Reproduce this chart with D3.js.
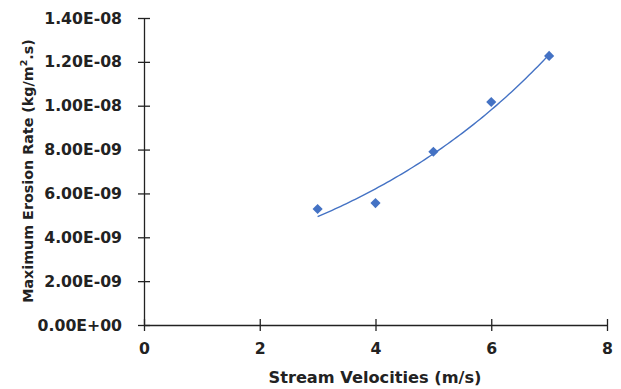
<!DOCTYPE html>
<meta charset="utf-8">
<style>
body { margin: 0; background: #fff; }
.tick text { font: bold 15.7px "DejaVu Sans", sans-serif; fill: #222; }
.axis path, .axis line { stroke: #222; stroke-width: 1.3px; }
.label { font: bold 16.2px "DejaVu Sans", sans-serif; fill: #222; }
.ylabel { font: bold 14.3px "DejaVu Sans", sans-serif; fill: #222; }
</style>
<svg width="621" height="389"></svg>
<script src="https://d3js.org/d3.v7.min.js"></script>
<script>

var velocities = [3, 4, 5, 6, 7];
var erosion = [5.29e-9, 5.56e-9, 7.9e-9, 1.017e-8, 1.227e-8];
var xTicks = [0, 2, 4, 6, 8];
var yTicks = [0, 2e-9, 4e-9, 6e-9, 8e-9, 1e-8, 1.2e-8, 1.4e-8];

var svg = d3.select("svg");

var x = d3.scaleLinear().domain([0, 8]).range([144, 607]);
var y = d3.scaleLinear().domain([0, 1.4e-8]).range([325, 18]);

// exponential trendline, least squares on ln(y)
var mx = d3.mean(velocities),
    ml = d3.mean(erosion, function(d) { return Math.log(d); });
var b = d3.sum(velocities, function(v, i) { return (v - mx) * (Math.log(erosion[i]) - ml); }) /
        d3.sum(velocities, function(v) { return (v - mx) * (v - mx); });
var a = Math.exp(ml - b * mx);
var trend = d3.range(3, 7.001, 0.05).map(function(v) { return [v, a * Math.exp(b * v)]; });

svg.append("g")
    .attr("class", "axis")
    .attr("transform", "translate(0," + y(0) + ")")
    .call(d3.axisBottom(x).tickValues(xTicks).tickSizeInner(6).tickSizeOuter(0).tickPadding(12))
    .call(function(g) {
      g.selectAll(".tick line").attr("y1", -6);
    });

svg.append("g")
    .attr("class", "axis")
    .attr("transform", "translate(" + x(0) + ",0)")
    .call(d3.axisLeft(y).tickValues(yTicks).tickSizeInner(6).tickSizeOuter(0).tickPadding(16)
      .tickFormat(function(d) {
        var s = d.toExponential(2).toUpperCase();
        return s.replace(/E([+-])(\d)$/, "E$10$2");
      }))
    .call(function(g) {
      g.selectAll(".tick line").attr("x1", 6);
    });

svg.append("path")
    .datum(trend)
    .attr("fill", "none")
    .attr("stroke", "#4472C4")
    .attr("stroke-width", 1.4)
    .attr("d", d3.line().x(function(d) { return x(d[0]); }).y(function(d) { return y(d[1]); }));

svg.selectAll(".pt")
    .data(velocities)
    .enter().append("path")
    .attr("class", "pt")
    .attr("transform", function(d, i) { return "translate(" + x(d) + "," + y(erosion[i]) + ")"; })
    .attr("d", d3.symbol().type(d3.symbolDiamond2).size(66))
    .attr("fill", "#4472C4");

svg.append("text")
    .attr("class", "label")
    .attr("x", 375)
    .attr("y", 383)
    .attr("text-anchor", "middle")
    .text("Stream Velocities (m/s)");

var yl = svg.append("text")
    .attr("class", "ylabel")
    .attr("transform", "translate(33,171) rotate(-90)")
    .attr("text-anchor", "middle");
yl.append("tspan").text("Maximum Erosion Rate (kg/m");
yl.append("tspan").attr("dy", -6).style("font-size", "9.5px").text("2");
yl.append("tspan").attr("dy", 6).text(".s)");

</script>
